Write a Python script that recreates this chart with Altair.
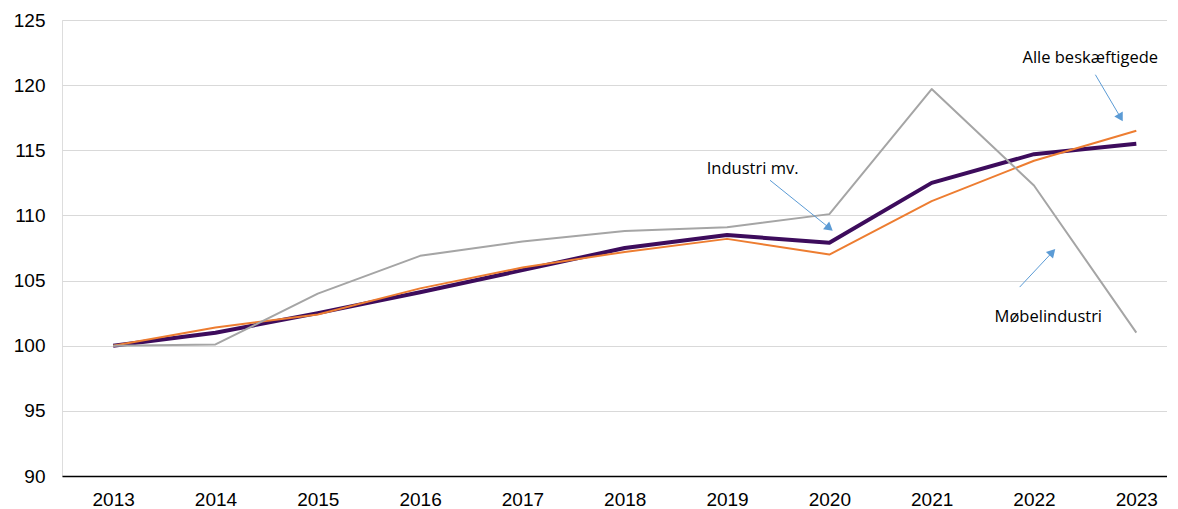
import altair as alt
import pandas as pd

years = [2013, 2014, 2015, 2016, 2017, 2018, 2019, 2020, 2021, 2022, 2023]
moebel = [100.0, 100.1, 104.0, 106.9, 108.0, 108.8, 109.1, 110.1, 119.7, 112.3, 101.0]
industri = [100.0, 101.0, 102.5, 104.1, 105.8, 107.5, 108.5, 107.9, 112.5, 114.7, 115.5]
alle = [100.0, 101.4, 102.4, 104.4, 106.0, 107.2, 108.2, 107.0, 111.1, 114.2, 116.5]

# annotations (data coordinates)
ann_text = ["Industri mv.", "Alle beskæftigede", "Møbelindustri"]
ann_tx = [2019.25, 2022.55, 2022.14]
ann_ty = [113.6, 122.1, 102.2]
arr_x1 = [2019.42, 2022.60, 2021.86]
arr_y1 = [112.7, 120.8, 104.5]
arr_x2 = [2019.99, 2022.84, 2022.17]
arr_y2 = [109.1, 117.6, 107.1]
arr_angle = [129, 150, 43]

x_scale = alt.Scale(domain=[2012.5, 2023.3], nice=False, zero=False)
y_scale = alt.Scale(domain=[90, 125], nice=False, zero=False)

x_axis = alt.Axis(values=years, format="d", title=None, grid=False, ticks=False,
                  domain=True, domainColor="#000000", domainWidth=1.5,
                  labelFontSize=19, labelColor="#000000", labelPadding=14,
                  labelFont="Liberation Sans")
y_axis = alt.Axis(values=[90, 95, 100, 105, 110, 115, 120, 125], title=None,
                  grid=True, gridColor="#d9d9d9", gridWidth=1, ticks=False,
                  domain=False, labelFontSize=19, labelColor="#000000",
                  labelPadding=17, labelFont="Liberation Sans")

def X(f):
    return alt.X(f, type="quantitative", scale=x_scale, axis=x_axis)

def Y(f):
    return alt.Y(f, type="quantitative", scale=y_scale, axis=y_axis)

def series(vals, color, width):
    df = pd.DataFrame({"year": years, "value": vals})
    return alt.Chart(df).mark_line(color=color, strokeWidth=width, strokeJoin="round").encode(
        x=X("year"), y=Y("value"))

l_ind = series(industri, "#3d0c5c", 4)
l_alle = series(alle, "#ed7d31", 2)
l_moeb = series(moebel, "#a5a5a5", 2)

ann = pd.DataFrame({"text": ann_text, "tx": ann_tx, "ty": ann_ty,
                    "x1": arr_x1, "y1": arr_y1, "x2": arr_x2, "y2": arr_y2,
                    "angle": arr_angle})

rules = alt.Chart(ann).mark_rule(color="#5b9bd5", strokeWidth=1).encode(
    x=X("x1"), y=Y("y1"), x2="x2:Q", y2="y2:Q")
heads = alt.Chart(ann).mark_point(shape="triangle", filled=True, color="#5b9bd5",
                                  size=95, opacity=1).encode(
    x=X("x2"), y=Y("y2"), angle=alt.Angle("angle:Q", scale=None))
texts = alt.Chart(ann).mark_text(fontSize=16.5, font="Open Sans", color="#000000",
                                 align="center", baseline="middle").encode(
    x=X("tx"), y=Y("ty"), text="text:N")

chart = alt.layer(l_ind, l_alle, l_moeb, rules, heads, texts).properties(
    width=1105, height=456,
    padding={"left": 5, "top": 3, "right": 0, "bottom": 0},
).configure_view(stroke=None).configure(background="#ffffff")

chart.save("out.html", embed_options={"renderer": "svg", "actions": False})
